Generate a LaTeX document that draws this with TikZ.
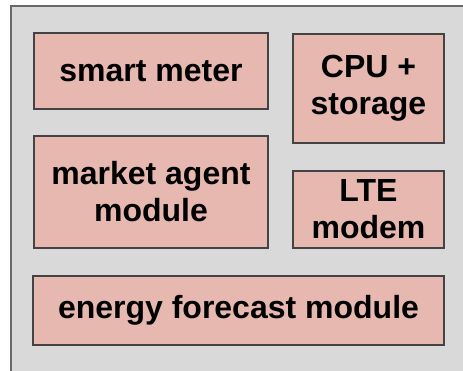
\documentclass[tikz,border=0pt]{standalone}
\usepackage{fontspec}
\setmainfont{Liberation Sans}
\definecolor{panelgray}{HTML}{D9D9D9}
\definecolor{boxpink}{HTML}{E6B8AF}
\definecolor{edgegray}{HTML}{434343}
\begin{document}
\begin{tikzpicture}[x=1pt,y=-1pt,
  module/.style={draw=edgegray, line width=1.2pt, fill=boxpink, inner sep=0pt,
    font=\fontsize{32}{37}\selectfont\bfseries, align=center, text=black}]
\useasboundingbox (0,0) rectangle (463,370);
% enclosing device panel, running past the right and bottom edges
\fill[white] (0,0) rectangle (463,370);
\draw[draw=edgegray!80, line width=1.2pt, fill=panelgray] (11,380) -- (11,6) -- (475,6) -- (475,380) -- cycle;
% modules
\node[module, minimum width=234pt, minimum height=76pt] (meter) at (151,71) {smart meter};
\node[module, minimum width=234pt, minimum height=112pt] (agent) at (151,192) {market agent\\module};
\node[module, minimum width=151pt, minimum height=109pt] (cpu) at (368.5,88.5) {CPU +\\storage};
\node[module, minimum width=151pt, minimum height=77pt] (lte) at (368.5,209.5) {LTE\\modem};
\node[module, minimum width=411pt, minimum height=69pt] (forecast) at (238.5,310.5) {energy forecast module};
\end{tikzpicture}
\end{document}
